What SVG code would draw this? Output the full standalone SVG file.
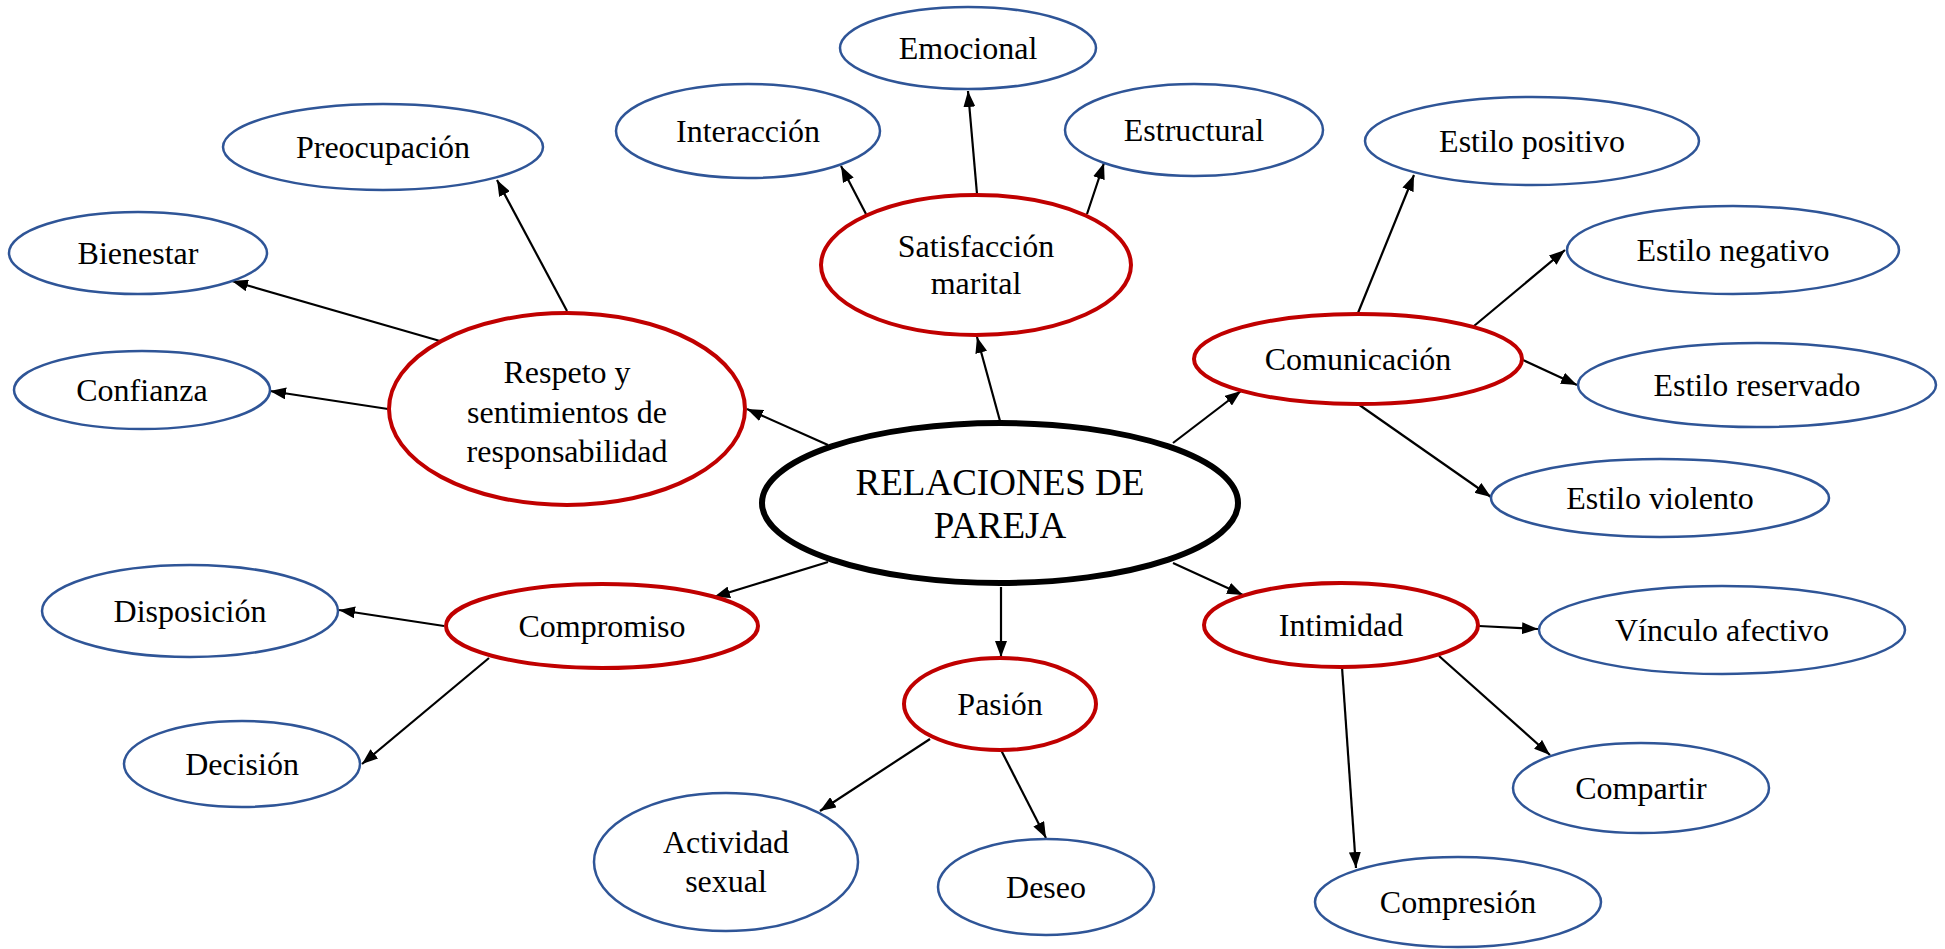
<svg xmlns="http://www.w3.org/2000/svg" width="1945" height="949" viewBox="0 0 1945 949">
<defs>
<marker id="arr" viewBox="0 0 16 12" refX="16" refY="6" markerWidth="16" markerHeight="12" markerUnits="userSpaceOnUse" orient="auto"><path d="M0,0 L16,6 L0,12 z" fill="#000"/></marker>
</defs>
<style>
.bg{fill:#fff}
ellipse{fill:#fff}
.main{stroke:#000;stroke-width:6}
.cat{stroke:#C00000;stroke-width:4}
.sub{stroke:#2F5597;stroke-width:2.5}
text{font-family:"Liberation Serif","Times New Roman",serif;font-size:32px;fill:#000;text-anchor:middle}
.big{font-size:37px}
#connectors line{stroke:#000;stroke-width:2.2;marker-end:url(#arr)}
</style>
<rect class="bg" x="0" y="0" width="1945" height="949"/>
<g id="connectors">
<line x1="828" y1="445" x2="747" y2="409"/>
<line x1="1000" y1="421" x2="977" y2="337"/>
<line x1="1173" y1="443" x2="1241" y2="391"/>
<line x1="828" y1="562" x2="714" y2="597"/>
<line x1="1001" y1="587" x2="1001" y2="657"/>
<line x1="1173" y1="563" x2="1243" y2="595"/>
<line x1="567" y1="311" x2="497" y2="180"/>
<line x1="440" y1="341" x2="232" y2="281"/>
<line x1="388" y1="409" x2="270" y2="391"/>
<line x1="866" y1="214" x2="841" y2="166"/>
<line x1="977" y1="194" x2="968" y2="91"/>
<line x1="1087" y1="214" x2="1104" y2="163"/>
<line x1="1358" y1="313" x2="1414" y2="175"/>
<line x1="1474" y1="326" x2="1565" y2="250"/>
<line x1="1523" y1="360" x2="1577" y2="385"/>
<line x1="1358" y1="404" x2="1491" y2="497"/>
<line x1="444" y1="626" x2="339" y2="610"/>
<line x1="489" y1="658" x2="362" y2="764"/>
<line x1="930" y1="739" x2="820" y2="811"/>
<line x1="1001" y1="750" x2="1046" y2="838"/>
<line x1="1479" y1="626" x2="1538" y2="629"/>
<line x1="1439" y1="656" x2="1550" y2="755"/>
<line x1="1342" y1="667" x2="1356" y2="868"/>
</g>
<g id="n-central"><ellipse class="main" cx="1000" cy="503" rx="238" ry="80"/><text class="big" x="1000" y="495">RELACIONES DE</text><text class="big" x="1000" y="538">PAREJA</text></g>
<g id="n-respeto"><ellipse class="cat" cx="567" cy="409" rx="178" ry="96"/><text x="567" y="383">Respeto y</text><text x="567" y="423">sentimientos de</text><text x="567" y="462">responsabilidad</text></g>
<g id="n-satisfaccion"><ellipse class="cat" cx="976" cy="265" rx="155" ry="70"/><text x="976" y="257">Satisfacción</text><text x="976" y="294">marital</text></g>
<g id="n-comunicacion"><ellipse class="cat" cx="1358" cy="359" rx="164" ry="45"/><text x="1358" y="370">Comunicación</text></g>
<g id="n-compromiso"><ellipse class="cat" cx="602" cy="626" rx="156" ry="42"/><text x="602" y="637">Compromiso</text></g>
<g id="n-pasion"><ellipse class="cat" cx="1000" cy="704" rx="96" ry="46"/><text x="1000" y="715">Pasión</text></g>
<g id="n-intimidad"><ellipse class="cat" cx="1341" cy="625" rx="137" ry="42"/><text x="1341" y="636">Intimidad</text></g>
<g id="n-emocional"><ellipse class="sub" cx="968" cy="48" rx="128" ry="41"/><text x="968" y="59">Emocional</text></g>
<g id="n-interaccion"><ellipse class="sub" cx="748" cy="131" rx="132" ry="47"/><text x="748" y="142">Interacción</text></g>
<g id="n-estructural"><ellipse class="sub" cx="1194" cy="130" rx="129" ry="46"/><text x="1194" y="141">Estructural</text></g>
<g id="n-preocupacion"><ellipse class="sub" cx="383" cy="147" rx="160" ry="43"/><text x="383" y="158">Preocupación</text></g>
<g id="n-bienestar"><ellipse class="sub" cx="138" cy="253" rx="129" ry="41"/><text x="138" y="264">Bienestar</text></g>
<g id="n-confianza"><ellipse class="sub" cx="142" cy="390" rx="128" ry="39"/><text x="142" y="401">Confianza</text></g>
<g id="n-positivo"><ellipse class="sub" cx="1532" cy="141" rx="167" ry="44"/><text x="1532" y="152">Estilo positivo</text></g>
<g id="n-negativo"><ellipse class="sub" cx="1733" cy="250" rx="166" ry="44"/><text x="1733" y="261">Estilo negativo</text></g>
<g id="n-reservado"><ellipse class="sub" cx="1757" cy="385" rx="179" ry="42"/><text x="1757" y="396">Estilo reservado</text></g>
<g id="n-violento"><ellipse class="sub" cx="1660" cy="498" rx="169" ry="39"/><text x="1660" y="509">Estilo violento</text></g>
<g id="n-disposicion"><ellipse class="sub" cx="190" cy="611" rx="148" ry="46"/><text x="190" y="622">Disposición</text></g>
<g id="n-decision"><ellipse class="sub" cx="242" cy="764" rx="118" ry="43"/><text x="242" y="775">Decisión</text></g>
<g id="n-actividad"><ellipse class="sub" cx="726" cy="862" rx="132" ry="69"/><text x="726" y="853">Actividad</text><text x="726" y="892">sexual</text></g>
<g id="n-deseo"><ellipse class="sub" cx="1046" cy="887" rx="108" ry="48"/><text x="1046" y="898">Deseo</text></g>
<g id="n-vinculo"><ellipse class="sub" cx="1722" cy="630" rx="183" ry="44"/><text x="1722" y="641">Vínculo afectivo</text></g>
<g id="n-compartir"><ellipse class="sub" cx="1641" cy="788" rx="128" ry="45"/><text x="1641" y="799">Compartir</text></g>
<g id="n-compresion"><ellipse class="sub" cx="1458" cy="902" rx="143" ry="45"/><text x="1458" y="913">Compresión</text></g>
</svg>
